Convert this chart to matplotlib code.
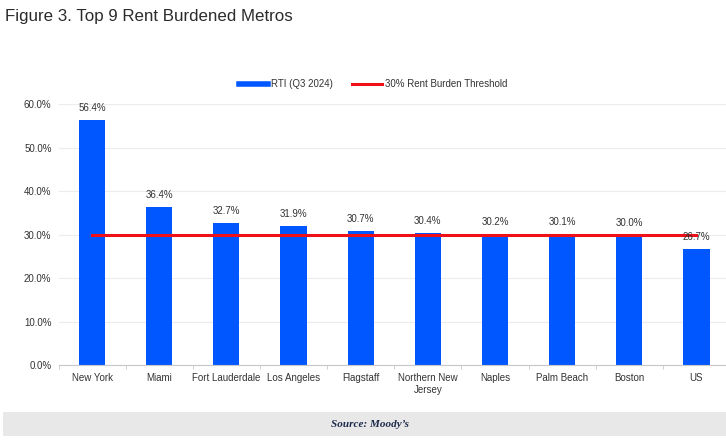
import matplotlib.pyplot as plt
from matplotlib.patches import Rectangle
from matplotlib.lines import Line2D

metros = ["New York", "Miami", "Fort Lauderdale", "Los Angeles", "Flagstaff",
          "Northern New\nJersey", "Naples", "Palm Beach", "Boston", "US"]
rti = [56.4, 36.4, 32.7, 31.9, 30.7, 30.4, 30.2, 30.1, 30.0, 26.7]
threshold = [30.0] * len(metros)

BLUE = "#0057ff"
RED = "#f01018"
TXT = "#333333"

plt.rcParams['font.family'] = ['Liberation Sans', 'DejaVu Sans']

fig = plt.figure(figsize=(7.26, 4.4), dpi=100)
# plot area runs slightly past the right edge, as in the cropped original
ax = fig.add_axes([58.5 / 726, 1 - 365 / 440, (730 - 58.5) / 726, (365 - 104) / 440])

x = range(len(metros))
ax.bar(x, rti, width=0.39, color=BLUE, zorder=2)
ax.plot(x, threshold, color=RED, lw=2.2, zorder=3)

for xi, v in zip(x, rti):
    ax.text(xi, v + 1.6, f"{v:.1f}%", ha="center", va="bottom", fontsize=7, color=TXT, zorder=4)

ax.set_xlim(-0.5, len(metros) - 0.5)
ax.set_ylim(0, 60)
ax.set_yticks(range(0, 61, 10))
ax.set_yticklabels([f"{t:.1f}%" for t in range(0, 61, 10)], fontsize=7, color=TXT)
ax.set_xticks(list(x))
ax.set_xticklabels(metros, fontsize=7, color=TXT)
ax.set_xticks([i + 0.5 for i in range(-1, len(metros))], minor=True)
ax.tick_params(axis="x", which="major", length=0, pad=6)
ax.tick_params(axis="x", which="minor", length=3, color="#c8c8c8")
ax.tick_params(axis="y", length=0, pad=5)
ax.grid(axis="y", color="#ececec", lw=0.8, zorder=0)
for s in ["top", "right", "left"]:
    ax.spines[s].set_visible(False)
ax.spines["bottom"].set_color("#c8c8c8")

handles = [Line2D([0], [0], color=BLUE, lw=4), Line2D([0], [0], color=RED, lw=2.2)]
fig.legend(handles, ["RTI (Q3 2024)", "30% Rent Burden Threshold"], loc="center",
           bbox_to_anchor=(373 / 726, 1 - 84 / 440), ncol=2, frameon=False, fontsize=7,
           handlelength=3.0, columnspacing=2.0, handletextpad=0.3, labelcolor=TXT)

fig.text(5 / 726, 1 - 17 / 440, "Figure 3. Top 9 Rent Burdened Metros", fontsize=12.2,
         color="#2b2b2b", va="center", ha="left")

fig.patches.append(Rectangle((3 / 726, 1 - 436 / 440), 723 / 726, 24 / 440,
                             transform=fig.transFigure, facecolor="#e8e8e8", edgecolor="none"))
fig.text(370 / 726, 1 - 424 / 440, "Source: Moody\u2019s", fontsize=8, family="Liberation Serif",
         style="italic", weight="bold", color="#1c2a4a", ha="center", va="center")

fig.savefig("out.png", dpi=100)
